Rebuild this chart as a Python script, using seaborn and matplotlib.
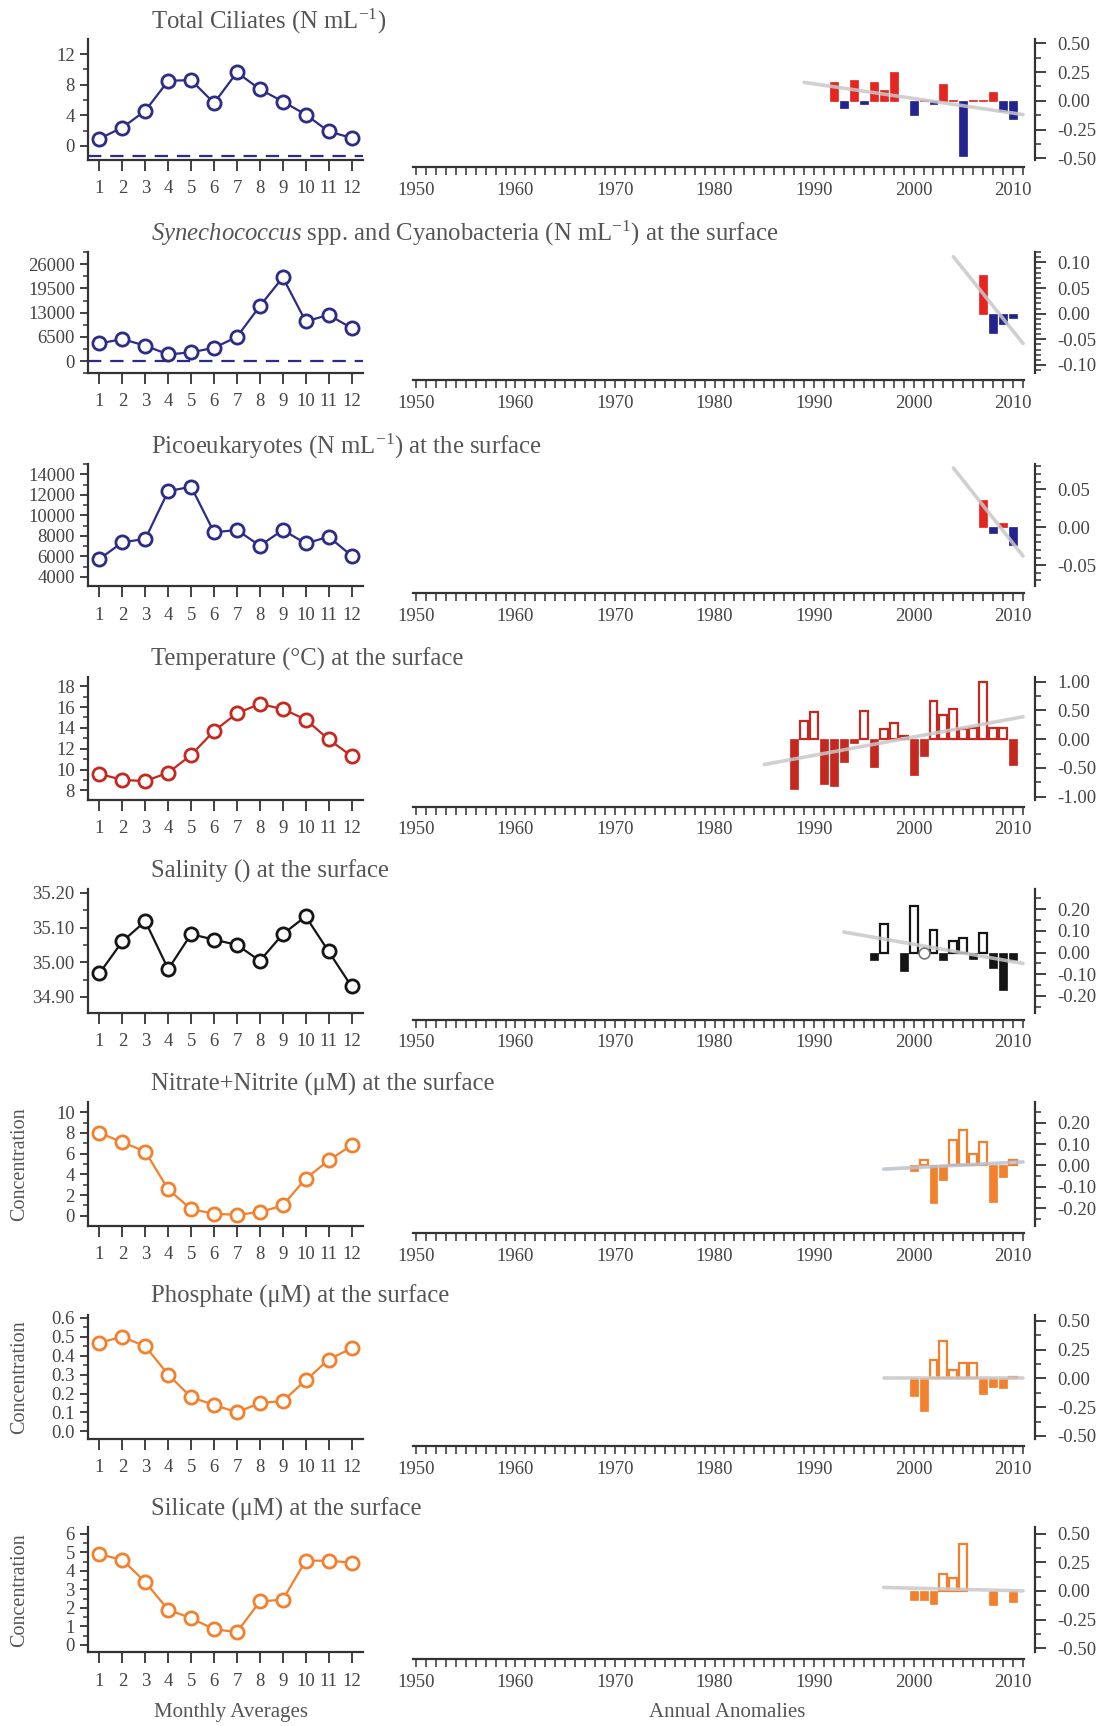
import numpy as np
import pandas as pd
import matplotlib
matplotlib.use("Agg")
import matplotlib.pyplot as plt
import seaborn as sns
from matplotlib.ticker import MultipleLocator, AutoMinorLocator, FormatStrFormatter

# ---------------- data ----------------
months = list(range(1, 13))

ciliates_monthly = [0.96, 2.4, 4.6, 8.5, 8.6, 5.6, 9.6, 7.4, 5.8, 4.1, 1.9, 1.05]
synech_monthly = [4730, 5900, 4140, 1770, 2360, 3550, 6500, 14770, 22450, 10640, 12400, 8860]
pico_monthly = [5740, 7370, 7700, 12370, 12800, 8350, 8570, 7040, 8570, 7260, 7910, 6070]
temp_monthly = [9.6, 9.0, 8.9, 9.7, 11.4, 13.7, 15.4, 16.3, 15.8, 14.8, 12.9, 11.3]
sal_monthly = [34.968, 35.06, 35.118, 34.98, 35.081, 35.065, 35.05, 35.004, 35.081, 35.132, 35.031, 34.93]
nitrate_monthly = [8.0, 7.1, 6.2, 2.55, 0.65, 0.2, 0.1, 0.36, 1.0, 3.6, 5.35, 6.8]
phosphate_monthly = [0.47, 0.50, 0.45, 0.30, 0.18, 0.14, 0.10, 0.15, 0.16, 0.27, 0.38, 0.44]
silicate_monthly = [4.9, 4.6, 3.4, 1.9, 1.45, 0.85, 0.7, 2.35, 2.45, 4.55, 4.55, 4.45]

# dashed reference levels on the monthly panels (None = not drawn)
ciliates_dash = -1.3
synech_dash = 0

ciliates_years = [1992, 1993, 1994, 1995, 1996, 1997, 1998, 2000, 2001, 2002, 2003, 2004,
                  2005, 2006, 2007, 2008, 2009, 2010]
ciliates_anom = [0.16, -0.065, 0.18, -0.03, 0.16, 0.09, 0.25, -0.12, 0.006, -0.03, 0.15, 0.01,
                 -0.48, 0.01, 0.01, 0.075, -0.085, -0.16]
synech_years = [2007, 2008, 2009, 2010]
synech_anom = [0.076, -0.038, -0.02, -0.009]
pico_years = [2007, 2008, 2009, 2010]
pico_anom = [0.036, -0.007, 0.006, -0.023]
temp_years = list(range(1988, 2011))
temp_anom = [-0.87, 0.32, 0.47, -0.78, -0.81, -0.40, -0.07, 0.49, -0.49, 0.17, 0.29, 0.06,
             -0.63, -0.30, 0.67, 0.42, 0.52, 0.17, 0.20, 0.99, 0.20, 0.20, -0.44]
sal_years = [1996, 1997, 1999, 2000, 2002, 2003, 2004, 2005, 2006, 2007, 2008, 2009, 2010]
sal_anom = [-0.035, 0.13, -0.085, 0.214, 0.106, -0.032, 0.054, 0.069, -0.03, 0.092, -0.07,
            -0.174, -0.032]
sal_zero_years = [2001]
nitrate_years = list(range(2000, 2011))
nitrate_anom = [-0.025, 0.028, -0.174, -0.068, 0.12, 0.168, 0.053, 0.11, -0.17, -0.053, 0.025]
phosphate_years = list(range(2000, 2011))
phosphate_anom = [-0.15, -0.286, 0.162, 0.32, 0.07, 0.133, 0.133, -0.14, -0.075, -0.084, 0.01]
silicate_years = [2000, 2001, 2002, 2003, 2004, 2005, 2008, 2010]
silicate_anom = [-0.08, -0.08, -0.11, 0.148, 0.11, 0.41, -0.12, -0.10]

# trend lines (year endpoints, anomaly endpoints)
ciliates_trend = ([1989, 2011], [0.16, -0.12])
synech_trend = ([2004, 2011], [0.111, -0.058])
pico_trend = ([2004, 2011], [0.078, -0.038])
temp_trend = ([1985, 2011], [-0.44, 0.39])
sal_trend = ([1993, 2011], [0.095, -0.05])
nitrate_trend = ([1997, 2011], [-0.017, 0.017])
phosphate_trend = ([1997, 2011], [0.004, 0.004])
silicate_trend = ([1997, 2011], [0.03, 0.0])

titles = [
    "Total Ciliates (N mL$^{-1}$)",
    "$\\mathit{Synechococcus}$ spp. and Cyanobacteria (N mL$^{-1}$) at the surface",
    "Picoeukaryotes (N mL$^{-1}$) at the surface",
    "Temperature (°C) at the surface",
    "Salinity () at the surface",
    "Nitrate+Nitrite (μM) at the surface",
    "Phosphate (μM) at the surface",
    "Silicate (μM) at the surface",
]

# ---------------- style ----------------
sns.set_theme(style="ticks")
plt.rcParams["font.family"] = ["Liberation Serif", "DejaVu Serif"]
plt.rcParams["mathtext.fontset"] = "custom"
plt.rcParams["mathtext.rm"] = "Liberation Serif"
plt.rcParams["mathtext.it"] = "Liberation Serif:italic"
plt.rcParams["axes.unicode_minus"] = False

NAVY = "#2c2c88"
BAR_RED = "#e52520"
BAR_BLUE = "#24248e"
TRED = "#c4281f"
ORANGE = "#f2802c"
BLACK = "#151515"
SPINE = "#333333"
TXT = "#555555"

W, H = 1112, 1726
fig = plt.figure(figsize=(W / 100, H / 100), dpi=100)

rows = [
    dict(m=ciliates_monthly, mc=NAVY, ylim=(-1.83, 13.96), ymaj=4, yfmt="%d", dash=ciliates_dash,
         yrs=ciliates_years, an=ciliates_anom, tr=ciliates_trend, pos=BAR_RED, neg=BAR_BLUE, hollow=False,
         rylim=(-0.515, 0.537), rmaj=0.25, rmin=2, trc="#c8c8c8"),
    dict(m=synech_monthly, mc=NAVY, ylim=(-3250, 29380), ymaj=6500, yfmt="%d", dash=synech_dash,
         yrs=synech_years, an=synech_anom, tr=synech_trend, pos=BAR_RED, neg=BAR_BLUE, hollow=False,
         rylim=(-0.116, 0.121), rmaj=0.05, rmin=5, trc="#c8c8c8"),
    dict(m=pico_monthly, mc=NAVY, ylim=(3062, 15000), ymaj=2000, yfmt="%d", dash=None,
         yrs=pico_years, an=pico_anom, tr=pico_trend, pos=BAR_RED, neg=BAR_BLUE, hollow=False,
         rylim=(-0.078, 0.083), rmaj=0.05, rmin=5, trc="#c8c8c8"),
    dict(m=temp_monthly, mc=TRED, ylim=(7.12, 18.9), ymaj=2, yfmt="%d", dash=None,
         yrs=temp_years, an=temp_anom, tr=temp_trend, pos=TRED, neg=TRED, hollow=True,
         rylim=(-1.05, 1.085), rmaj=0.5, rmin=2, trc="#c8c8c8"),
    dict(m=sal_monthly, mc=BLACK, ylim=(34.854, 35.21), ymaj=0.1, yfmt="%.2f", dash=None,
         yrs=sal_years, an=sal_anom, tr=sal_trend, pos=BLACK, neg=BLACK, hollow=True,
         rylim=(-0.278, 0.292), rmaj=0.1, rmin=2, trc="#c8c8c8"),
    dict(m=nitrate_monthly, mc=ORANGE, ylim=(-0.98, 10.98), ymaj=2, yfmt="%d", dash=None,
         yrs=nitrate_years, an=nitrate_anom, tr=nitrate_trend, pos=ORANGE, neg=ORANGE, hollow=True,
         rylim=(-0.283, 0.297), rmaj=0.1, rmin=2, trc="#b8c2d2"),
    dict(m=phosphate_monthly, mc=ORANGE, ylim=(-0.042, 0.618), ymaj=0.1, yfmt="%.1f", dash=None,
         yrs=phosphate_years, an=phosphate_anom, tr=phosphate_trend, pos=ORANGE, neg=ORANGE, hollow=True,
         rylim=(-0.528, 0.553), rmaj=0.25, rmin=2, trc="#c8c8c8"),
    dict(m=silicate_monthly, mc=ORANGE, ylim=(-0.40, 6.36), ymaj=1, yfmt="%d", dash=None,
         yrs=silicate_years, an=silicate_anom, tr=silicate_trend, pos=ORANGE, neg=ORANGE, hollow=True,
         rylim=(-0.536, 0.555), rmaj=0.25, rmin=2, trc="#c8c8c8"),
]

FS = 13.5


def style_common(ax):
    for s in ax.spines.values():
        s.set_color(SPINE)
        s.set_linewidth(1.6)
    ax.tick_params(which="major", length=6, width=1.3, color=SPINE, labelsize=FS, labelcolor="#444444")
    ax.tick_params(which="minor", length=3.5, width=1.1, color=SPINE)
    ax.set_xlabel("")
    ax.set_ylabel("")


for i, r in enumerate(rows):
    top = 39 + 212.6 * i
    bot = 160 + 213.2 * i
    hgt = bot - top
    bottom_f = 1 - bot / H

    # ---- monthly panel ----
    axl = fig.add_axes([88 / W, bottom_f, 275 / W, hgt / H])
    if r["dash"] is not None:
        axl.axhline(r["dash"], color=r["mc"], lw=1.6, dashes=(6, 4), zorder=1)
    sns.lineplot(x=months, y=r["m"], ax=axl, color=r["mc"], lw=1.6, marker="o", markersize=9.5,
                 markerfacecolor="white", markeredgecolor=r["mc"], markeredgewidth=2.0, zorder=3)
    axl.set_xlim(0.5, 12.5)
    axl.set_ylim(*r["ylim"])
    axl.set_xticks(months)
    axl.set_xticklabels([str(m) for m in months])
    axl.yaxis.set_major_locator(MultipleLocator(r["ymaj"]))
    axl.yaxis.set_minor_locator(AutoMinorLocator(2))
    axl.yaxis.set_major_formatter(FormatStrFormatter(r["yfmt"]))
    sns.despine(ax=axl)
    style_common(axl)
    axl.tick_params(axis="x", length=8, pad=6.5)

    # ---- annual panel ----
    axr = fig.add_axes([411 / W, bottom_f, 624 / W, hgt / H])
    df = pd.DataFrame({"year": r["yrs"], "anom": r["an"]})
    sns.barplot(data=df, x="year", y="anom", ax=axr, native_scale=True, width=0.8,
                color=r["pos"], saturation=1, errorbar=None, zorder=2)
    for p in axr.patches:
        h = p.get_height()
        if h >= 0:
            if r["hollow"]:
                p.set_facecolor("white")
                p.set_edgecolor(r["pos"])
                p.set_linewidth(1.6)
            else:
                p.set_facecolor(r["pos"])
                p.set_edgecolor(r["pos"])
                p.set_linewidth(0.5)
        else:
            p.set_facecolor(r["neg"])
            p.set_edgecolor(r["neg"])
            p.set_linewidth(0.5)
    sns.lineplot(x=r["tr"][0], y=r["tr"][1], ax=axr, color=r["trc"], lw=2.6, alpha=0.85, zorder=3)
    if i == 4:
        sns.scatterplot(x=sal_zero_years, y=[0] * len(sal_zero_years), ax=axr, s=60,
                        facecolor="white", edgecolor="#777777", linewidth=1.2, zorder=4)
    axr.set_xlim(1949.5, 2012.2)
    axr.set_ylim(*r["rylim"])
    yrs_all = list(range(1950, 2012))
    axr.set_xticks(yrs_all)
    axr.set_xticklabels([str(y) if y % 10 == 0 else "" for y in yrs_all])
    axr.yaxis.tick_right()
    axr.yaxis.set_major_locator(MultipleLocator(r["rmaj"]))
    axr.yaxis.set_minor_locator(AutoMinorLocator(r["rmin"]))
    axr.yaxis.set_major_formatter(FormatStrFormatter("%.2f"))
    axr.spines["top"].set_visible(False)
    axr.spines["left"].set_visible(False)
    axr.spines["bottom"].set_position(("outward", 5))
    axr.spines["bottom"].set_bounds(1949.7, 2011.1)
    style_common(axr)
    axr.tick_params(axis="x", length=6, width=1.1, pad=4.5)
    axr.tick_params(axis="y", which="major", length=8, pad=8)
    axr.tick_params(axis="y", which="minor", length=4)

    # ---- title ----
    fig.text(151 / W, 1 - (top - 18) / H, titles[i], fontsize=17.8, color=TXT, va="center", ha="left")
    if i >= 5:
        fig.text(20 / W, 1 - (top + hgt / 2) / H, "Concentration", rotation=90, fontsize=14.5,
                 color=TXT, va="center", ha="center")

fig.text(231 / W, 1 - 1712 / H, "Monthly Averages", fontsize=15, color=TXT, ha="center", va="center")
fig.text(727 / W, 1 - 1712 / H, "Annual Anomalies", fontsize=15, color=TXT, ha="center", va="center")

fig.savefig("out.png", dpi=100, facecolor="white")
